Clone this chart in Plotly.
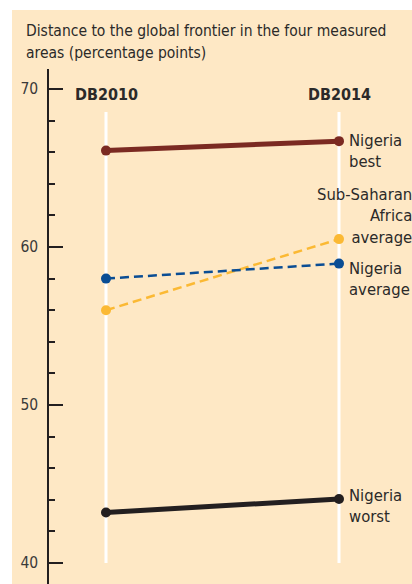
import plotly.graph_objects as go

periods = ["DB2010", "DB2014"]
series_names = ["Nigeria best", "Sub-Saharan Africa average", "Nigeria average", "Nigeria worst"]
nigeria_best = [66.1, 66.7]
ssa_average = [56.0, 60.5]
nigeria_average = [58.0, 58.95]
nigeria_worst = [43.2, 44.05]
y_ticks = [40, 50, 60, 70]
title_lines = ["Distance to the global frontier in the four measured", "areas (percentage points)"]

W, H = 412, 584
ML, MT = 49, 69
PW, PH = W - ML, H - MT
FONT = "DejaVu Sans Condensed, DejaVu Sans, sans-serif"
BG = "#FEE8C5"
TXT = "#2b2a29"

x_pos = [0, 1]
fig = go.Figure()

# white guide lines
for xp in x_pos:
    fig.add_trace(go.Scatter(x=[xp, xp], y=[y_ticks[0], 68.55], mode="lines",
                             line=dict(color="white", width=3), hoverinfo="skip", showlegend=False))

styles = [
    (nigeria_best, "#7B2A22", 5, "solid"),
    (nigeria_worst, "#231F20", 5, "solid"),
    (ssa_average, "#FBB934", 2.5, "9px,5px"),
    (nigeria_average, "#0A4D94", 2.5, "9px,5px"),
]
for vals, col, w, dash in styles:
    fig.add_trace(go.Scatter(x=x_pos, y=vals, mode="lines+markers",
                             line=dict(color=col, width=w, dash=dash),
                             marker=dict(color=col, size=10),
                             showlegend=False, hoverinfo="skip"))

# pixel -> paper coordinates
def px2paper_x(px):
    return (px - ML) / PW

def px2paper_y(py):
    return 1 - (py - MT) / PH

# background panel
fig.add_shape(type="rect", xref="paper", yref="paper",
              x0=px2paper_x(12), x1=px2paper_x(W + 10), y0=px2paper_y(H + 10), y1=px2paper_y(10),
              fillcolor=BG, line=dict(width=0), layer="below")

ann = []
for i, line in enumerate(title_lines):
    ann.append(dict(xref="paper", yref="paper", x=px2paper_x(24), y=px2paper_y(20 + 21.6 * i),
                    xanchor="left", yanchor="top", align="left", showarrow=False,
                    text=line, font=dict(family=FONT, size=15.5, color=TXT)))
for xp, p in zip(x_pos, periods):
    ann.append(dict(xref="x", yref="paper", x=xp, y=px2paper_y(95), xanchor="center", yanchor="middle",
                    showarrow=False, text="<b>%s</b>" % p, font=dict(family=FONT, size=16, color=TXT)))

lab_font = dict(family=FONT, size=16.5, color=TXT)
ann.append(dict(xref="x", yref="y", x=x_pos[1], y=nigeria_best[1], xanchor="left", yanchor="top",
                xshift=8, yshift=12, align="left", showarrow=False, text="Nigeria<br>best", font=lab_font))
ann.append(dict(xref="paper", yref="y", x=px2paper_x(414), y=ssa_average[1], xanchor="right", yanchor="bottom",
                yshift=-10, align="right", showarrow=False, text="Sub-Saharan<br>Africa<br>average", font=lab_font))
ann.append(dict(xref="x", yref="y", x=x_pos[1], y=nigeria_average[1], xanchor="left", yanchor="top",
                xshift=8, yshift=7, align="left", showarrow=False, text="Nigeria<br>average", font=lab_font))
ann.append(dict(xref="x", yref="y", x=x_pos[1], y=nigeria_worst[1], xanchor="left", yanchor="top",
                xshift=8, yshift=15, align="left", showarrow=False, text="Nigeria<br>worst", font=lab_font))

y_top = 70 + (89 - MT) / 15.8
y_bot = 40 - (H - 563) / 15.8
x_left = -(106 - ML) / 233.0
x_right = 1 + (W - 339) / 233.0

fig.update_layout(
    width=W, height=H,
    margin=dict(l=ML, r=0, t=MT, b=0, pad=0),
    paper_bgcolor="white", plot_bgcolor=BG,
    annotations=ann,
    xaxis=dict(range=[x_left, x_right], visible=False, fixedrange=True),
    yaxis=dict(range=[y_bot, y_top], tickvals=y_ticks, ticks="inside", ticklen=14, tickwidth=1.5,
               tickcolor="#231F20", showline=True, linecolor="#231F20", linewidth=1.5,
               showgrid=False, zeroline=False, ticklabelstandoff=6, fixedrange=True,
               tickfont=dict(family=FONT, size=15.5, color="#3a3a3a"),
               minor=dict(dtick=2, tick0=40, ticks="inside", ticklen=6, tickwidth=1.5, tickcolor="#231F20",
                          showgrid=False)),
)

fig.write_html("out.html", config={"displayModeBar": False},
               post_script="document.body.style.margin='0';document.body.style.overflow='hidden';")
